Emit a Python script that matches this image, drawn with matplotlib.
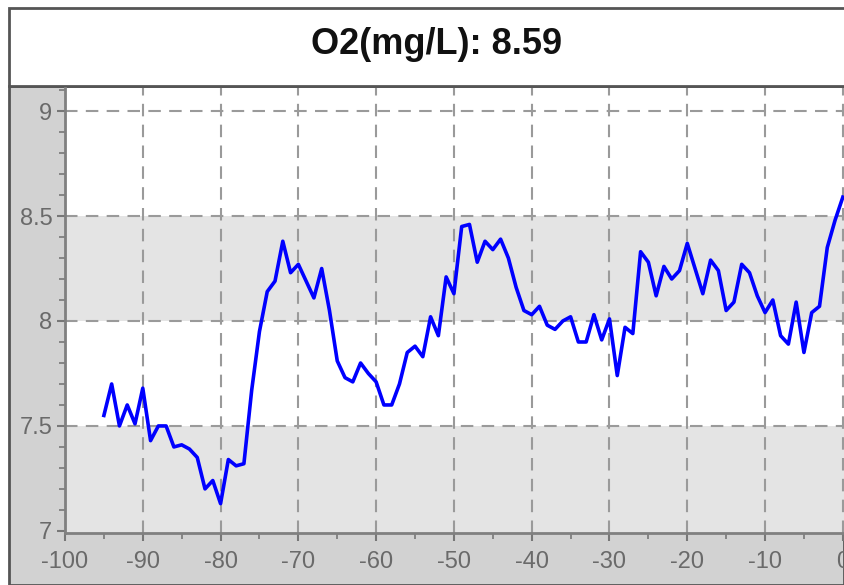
import numpy as np
import matplotlib.pyplot as plt
from matplotlib.patches import Rectangle
from matplotlib.ticker import MultipleLocator

plt.rcParams['font.family'] = ['Liberation Sans', 'DejaVu Sans']
plt.rcParams['axes.unicode_minus'] = False

# O2 reading over the last 96 samples (x = seconds ago)
seconds = list(range(-95, 1))
o2_values = [
    7.55, 7.70, 7.50, 7.60, 7.51, 7.68, 7.43, 7.50, 7.50, 7.40,
    7.41, 7.39, 7.35, 7.20, 7.24, 7.13, 7.34, 7.31, 7.32, 7.67,
    7.95, 8.14, 8.19, 8.38, 8.23, 8.27, 8.19, 8.11, 8.25, 8.05,
    7.81, 7.73, 7.71, 7.80, 7.75, 7.71, 7.60, 7.60, 7.70, 7.85,
    7.88, 7.83, 8.02, 7.93, 8.21, 8.13, 8.45, 8.46, 8.28, 8.38,
    8.34, 8.39, 8.30, 8.16, 8.05, 8.03, 8.07, 7.98, 7.96, 8.00,
    8.02, 7.90, 7.90, 8.03, 7.91, 8.01, 7.74, 7.97, 7.94, 8.33,
    8.28, 8.12, 8.26, 8.20, 8.24, 8.37, 8.25, 8.13, 8.29, 8.24,
    8.05, 8.09, 8.27, 8.23, 8.12, 8.04, 8.10, 7.93, 7.89, 8.09,
    7.85, 8.04, 8.07, 8.35, 8.48, 8.59,
]
title = f"O2(mg/L): {o2_values[-1]:.2f}"
y_ticks = [7, 7.5, 8, 8.5, 9]
x_ticks = list(range(-100, 1, 10))
bands = [(8.0, 8.5), (6.9, 7.5)]

W, H = 844, 585
fig = plt.figure(figsize=(W / 100, H / 100), dpi=100, facecolor='white')

# gray frame behind the axes strips
fig.patches.append(Rectangle((9 / W, 0), 1 - 9 / W, 1 - 86 / H, transform=fig.transFigure,
                             facecolor='#d2d2d2', edgecolor='#555555', lw=2, zorder=-2))
# title box
fig.patches.append(Rectangle((9 / W, 1 - 86 / H), 1, 78 / H, transform=fig.transFigure,
                             facecolor='white', edgecolor='#555555', lw=2, zorder=-1))
fig.text(437 / W, 1 - 45 / H, title, ha='center', va='center',
         fontsize=26, fontweight='bold', color='#111111')

ax = fig.add_axes([65 / W, (H - 533) / H, (W - 65) / W, (533 - 88) / H])
ax.set_zorder(2)
ax.set_facecolor('white')
for lo, hi in bands:
    ax.axhspan(lo, hi, color='#e4e4e4', lw=0, zorder=0)

ax.plot(seconds, o2_values, color='#0000ff', lw=2.6, zorder=3)

ax.set_xlim(-100, 0.15)
ax.set_ylim(6.99, 9.11)
ax.set_xticks(x_ticks)
ax.set_yticks(y_ticks)
ax.set_yticklabels([f"{v:g}" for v in y_ticks])
ax.xaxis.set_minor_locator(MultipleLocator(5))
ax.yaxis.set_minor_locator(MultipleLocator(0.1))

ax.grid(True, which='major', color='#9a9a9a', ls=(0, (6, 4)), lw=1.5, zorder=1)
ax.set_axisbelow(True)
# no dashed line along the bottom edge (y = 7) or the left edge (x = -100)
ax.yaxis.get_gridlines()[0].set_visible(False)
ax.xaxis.get_gridlines()[0].set_visible(False)

ax.tick_params(which='major', length=6, width=1.5, color='#777777',
               labelsize=17, labelcolor='#6a6a6a')
ax.tick_params(axis='x', which='major', pad=7)
ax.tick_params(axis='y', which='major', pad=3)
ax.tick_params(which='minor', length=4, width=1.2, color='#777777')

for side in ['right', 'top']:
    ax.spines[side].set_visible(False)
for side in ['left', 'bottom']:
    ax.spines[side].set_color('#808080')
    ax.spines[side].set_linewidth(2)

fig.savefig('out.png', dpi=100)
